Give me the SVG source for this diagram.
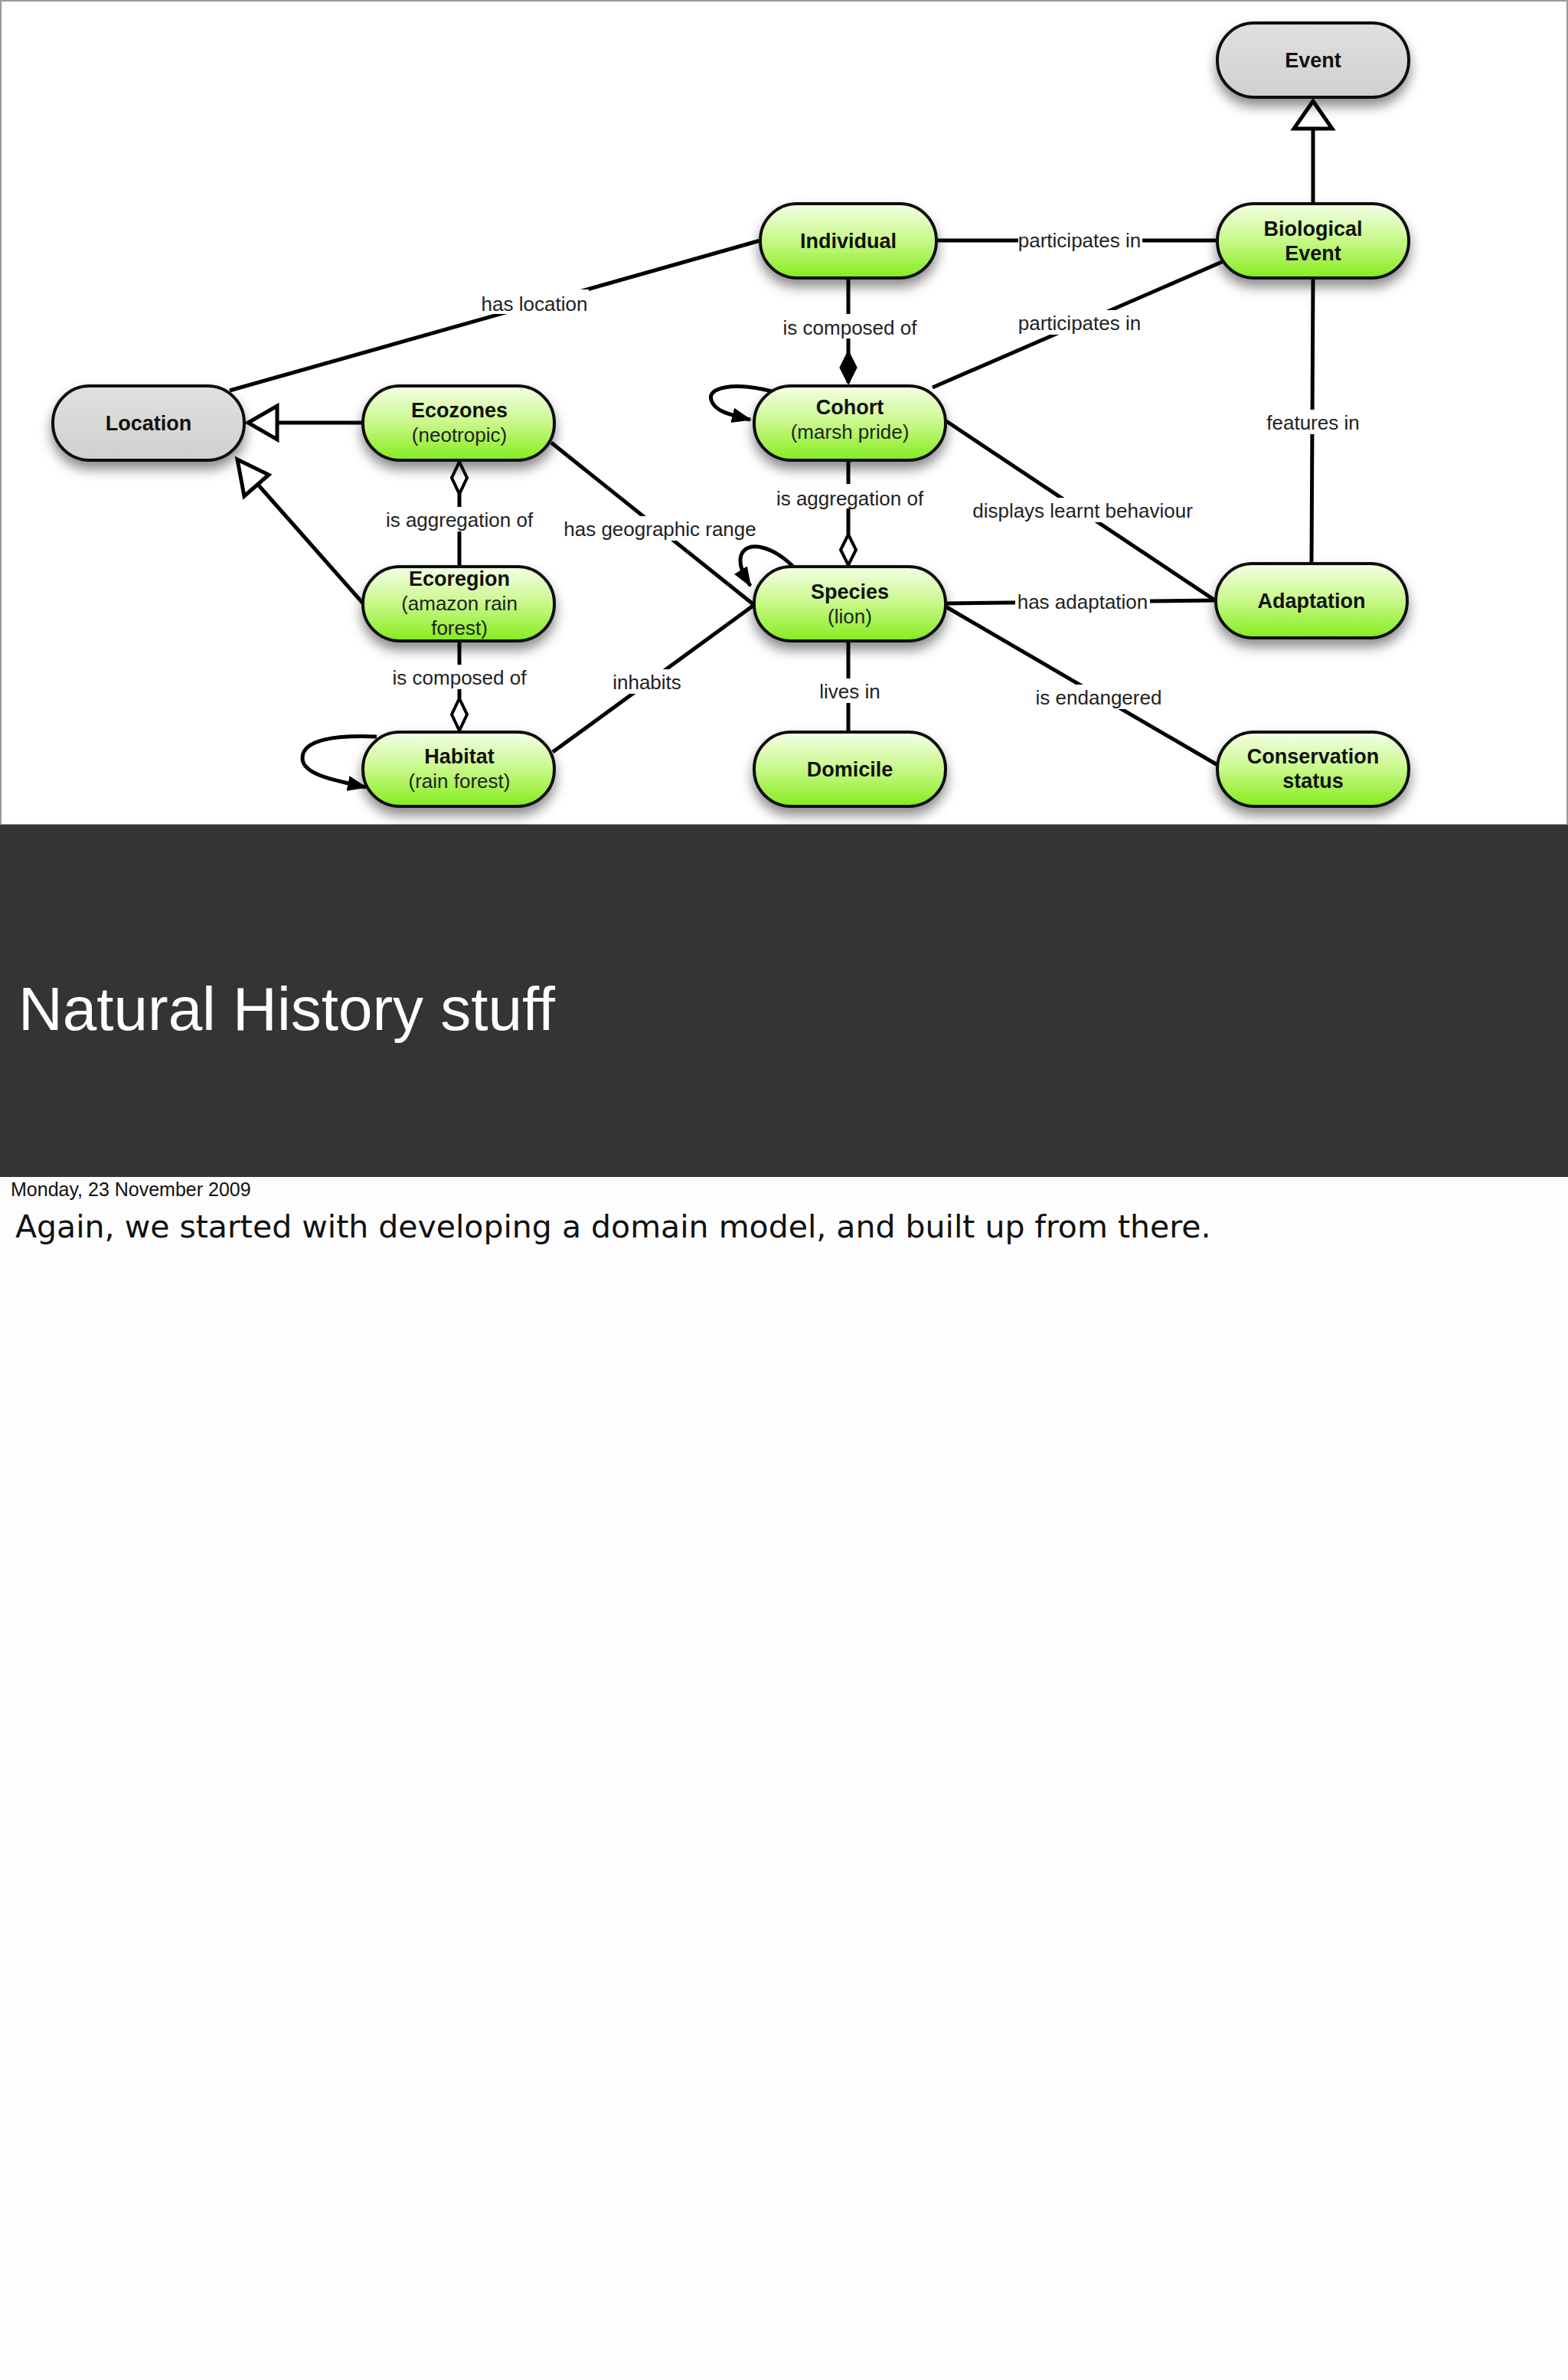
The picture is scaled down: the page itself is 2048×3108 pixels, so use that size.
<svg xmlns="http://www.w3.org/2000/svg" width="2048" height="3108" viewBox="0 0 2048 3108">
<defs>
<linearGradient id="g" x1="0" y1="0" x2="0" y2="1"><stop offset="0" stop-color="#f4ffe6"/><stop offset="0.5" stop-color="#c8f888"/><stop offset="1" stop-color="#84ec1c"/></linearGradient>
<linearGradient id="gr" x1="0" y1="0" x2="0" y2="1"><stop offset="0" stop-color="#e0e0e0"/><stop offset="1" stop-color="#d0d0d0"/></linearGradient>
<filter id="sh" x="-20%" y="-30%" width="140%" height="180%"><feDropShadow dx="0" dy="10" stdDeviation="8" flood-color="#000" flood-opacity="0.45"/></filter>
<marker id="tri" markerWidth="30" markerHeight="30" refX="2" refY="15" orient="auto" markerUnits="userSpaceOnUse"><path d="M28,2 L2,15 L28,28 Z" fill="#fff" stroke="#000" stroke-width="4"/></marker>
<marker id="dia" markerWidth="24" markerHeight="48" refX="12" refY="2" orient="0" markerUnits="userSpaceOnUse"><path d="M12,2 L22,22 L12,42 L2,22 Z" fill="#fff" stroke="#000" stroke-width="4"/></marker>
<marker id="arr" markerWidth="26" markerHeight="20" refX="24" refY="10" orient="auto" markerUnits="userSpaceOnUse"><path d="M0,0 L26,10 L0,20 Z" fill="#000"/></marker>
</defs>
<style>
.n{stroke:#111;stroke-width:4;filter:url(#sh)}
.t{font-family:"Liberation Sans",Arial,sans-serif;font-size:27px;font-weight:bold;text-anchor:middle;fill:#111}
.s{font-family:"Liberation Sans",Arial,sans-serif;font-size:26px;text-anchor:middle;fill:#222}
.e{stroke:#000;stroke-width:5;fill:none}
.l{font-family:"Liberation Sans",Arial,sans-serif;font-size:26px;text-anchor:middle;fill:#222}
.lb{fill:#fff}
</style>
<rect width="2048" height="3108" fill="#fdfdfd"/>
<rect x="1" y="1" width="2046" height="1076" fill="#fff" stroke="#999" stroke-width="2"/>
<g id="connectors">
<line class="e" x1="993" y1="314" x2="300" y2="510"/>
<line class="e" x1="1223" y1="314" x2="1590" y2="314"/>
<line class="e" x1="1218" y1="506" x2="1596" y2="342"/>
<line class="e" x1="1108" y1="363" x2="1108" y2="500"/>
<path d="M1108,460 L1118,480 L1108,500 L1098,480 Z" fill="#000" stroke="#000" stroke-width="3"/>
<line class="e" x1="1108" y1="601" x2="1108" y2="698"/>
<path d="M1108,698 L1118,718 L1108,738 L1098,718 Z" fill="#fff" stroke="#000" stroke-width="4"/>
<line class="e" x1="1233" y1="548" x2="1590" y2="786"/>
<line class="e" x1="1715" y1="363" x2="1713" y2="736"/>
<line class="e" x1="1715" y1="266" x2="1715" y2="162"/>
<path d="M1715,132 L1740,168 L1690,168 Z" fill="#fff" stroke="#000" stroke-width="5"/>
<line class="e" x1="1235" y1="788" x2="1588" y2="784"/>
<line class="e" x1="1235" y1="792" x2="1592" y2="1000"/>
<line class="e" x1="1108" y1="837" x2="1108" y2="956"/>
<line class="e" x1="474" y1="552" x2="360" y2="552"/>
<path d="M324,552 L362,530 L362,574 Z" fill="#fff" stroke="#000" stroke-width="5"/>
<line class="e" x1="476" y1="790" x2="338" y2="634"/>
<path d="M310,600 L351,620 L319,648 Z" fill="#fff" stroke="#000" stroke-width="5"/>
<line class="e" x1="600" y1="645" x2="600" y2="740"/>
<path d="M600,603 L610,624 L600,645 L590,624 Z" fill="#fff" stroke="#000" stroke-width="4"/>
<line class="e" x1="600" y1="837" x2="600" y2="912"/>
<path d="M600,912 L610,933 L600,954 L590,933 Z" fill="#fff" stroke="#000" stroke-width="4"/>
<line class="e" x1="720" y1="578" x2="985" y2="790"/>
<line class="e" x1="722" y1="982" x2="985" y2="790"/>
<path class="e" stroke-width="3" d="M1012,512 C960,498 920,505 930,525 C936,538 955,542 980,548" marker-end="url(#arr)"/>
<path class="e" stroke-width="3" d="M1040,744 C1010,712 975,705 968,725 C964,738 972,752 980,765" marker-end="url(#arr)"/>
<path class="e" stroke-width="3" d="M492,962 C440,960 395,965 395,990 C395,1010 430,1018 478,1028" marker-end="url(#arr)"/>
<rect class="lb" x="627" y="378" width="142" height="32"/><text class="l" x="698" y="406">has location</text>
<rect class="lb" x="1330" y="298" width="162" height="32"/><text class="l" x="1410" y="323">participates in</text>
<rect class="lb" x="1330" y="405" width="162" height="32"/><text class="l" x="1410" y="431">participates in</text>
<rect class="lb" x="1018" y="410" width="184" height="32"/><text class="l" x="1110" y="437">is composed of</text>
<rect class="lb" x="1010" y="632" width="200" height="32"/><text class="l" x="1110" y="660">is aggregation of</text>
<rect class="lb" x="1268" y="650" width="292" height="32"/><text class="l" x="1414" y="676">displays learnt behaviour</text>
<rect class="lb" x="1650" y="535" width="130" height="32"/><text class="l" x="1715" y="561">features in</text>
<rect class="lb" x="1326" y="769" width="176" height="32"/><text class="l" x="1414" y="795">has adaptation</text>
<rect class="lb" x="1350" y="894" width="170" height="32"/><text class="l" x="1435" y="920">is endangered</text>
<rect class="lb" x="1065" y="886" width="90" height="32"/><text class="l" x="1110" y="912">lives in</text>
<rect class="lb" x="500" y="662" width="200" height="32"/><text class="l" x="600" y="688">is aggregation of</text>
<rect class="lb" x="508" y="868" width="184" height="32"/><text class="l" x="600" y="894">is composed of</text>
<rect class="lb" x="734" y="674" width="256" height="32"/><text class="l" x="862" y="700">has geographic range</text>
<rect class="lb" x="800" y="874" width="90" height="32"/><text class="l" x="845" y="900">inhabits</text>
</g>
<g id="Event"><rect class="n" x="1590" y="30" width="250" height="97" rx="48" fill="url(#gr)"/><text class="t" x="1715" y="88">Event</text></g>
<g id="Individual"><rect class="n" x="993" y="266" width="230" height="97" rx="48" fill="url(#g)"/><text class="t" x="1108" y="324">Individual</text></g>
<g id="BiologicalEvent"><rect class="n" x="1590" y="266" width="250" height="97" rx="48" fill="url(#g)"/><text class="t" x="1715" y="308">Biological</text><text class="t" x="1715" y="340">Event</text></g>
<g id="Location"><rect class="n" x="69" y="504" width="250" height="97" rx="48" fill="url(#gr)"/><text class="t" x="194" y="562">Location</text></g>
<g id="Ecozones"><rect class="n" x="474" y="504" width="250" height="97" rx="48" fill="url(#g)"/><text class="t" x="600" y="545">Ecozones</text><text class="s" x="600" y="577">(neotropic)</text></g>
<g id="Cohort"><rect class="n" x="985" y="504" width="250" height="97" rx="48" fill="url(#g)"/><text class="t" x="1110" y="541">Cohort</text><text class="s" x="1110" y="573">(marsh pride)</text></g>
<g id="Ecoregion"><rect class="n" x="474" y="740" width="250" height="97" rx="48" fill="url(#g)"/><text class="t" x="600" y="765">Ecoregion</text><text class="s" x="600" y="797">(amazon rain</text><text class="s" x="600" y="829">forest)</text></g>
<g id="Species"><rect class="n" x="985" y="740" width="250" height="97" rx="48" fill="url(#g)"/><text class="t" x="1110" y="782">Species</text><text class="s" x="1110" y="814">(lion)</text></g>
<g id="Adaptation"><rect class="n" x="1588" y="736" width="250" height="97" rx="48" fill="url(#g)"/><text class="t" x="1713" y="794">Adaptation</text></g>
<g id="Habitat"><rect class="n" x="474" y="956" width="250" height="97" rx="48" fill="url(#g)"/><text class="t" x="600" y="997">Habitat</text><text class="s" x="600" y="1029">(rain forest)</text></g>
<g id="Domicile"><rect class="n" x="985" y="956" width="250" height="97" rx="48" fill="url(#g)"/><text class="t" x="1110" y="1014">Domicile</text></g>
<g id="ConservationStatus"><rect class="n" x="1590" y="956" width="250" height="97" rx="48" fill="url(#g)"/><text class="t" x="1715" y="997">Conservation</text><text class="t" x="1715" y="1029">status</text></g>
<rect x="0" y="1077" width="2048" height="460" fill="#353335"/>
<text x="24" y="1345" font-family="'Liberation Sans',Arial,sans-serif" font-size="80" fill="#fff">Natural History stuff</text>
<text x="14" y="1562" font-family="'Liberation Sans',Arial,sans-serif" font-size="25" fill="#111">Monday, 23 November 2009</text>
<text x="20" y="1616" font-family="'DejaVu Sans',sans-serif" font-size="41" fill="#111">Again, we started with developing a domain model, and built up from there.</text>
</svg>
